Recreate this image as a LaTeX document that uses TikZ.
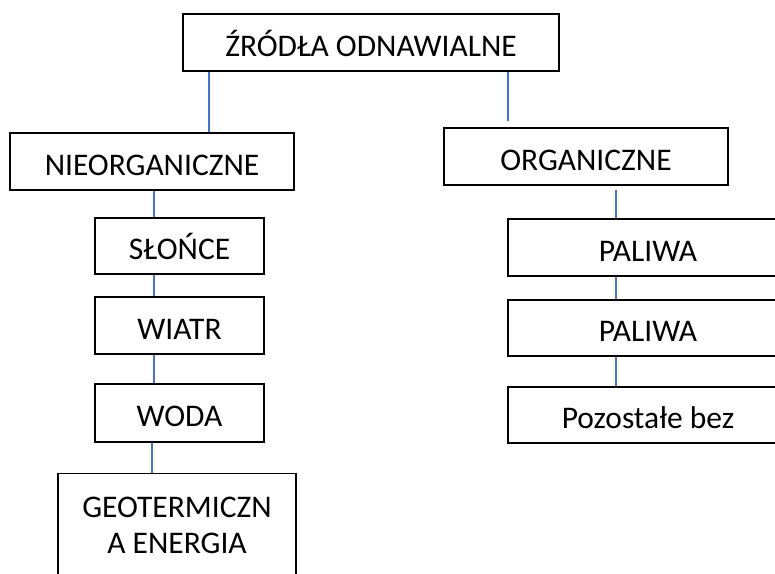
\documentclass[tikz,border=0pt]{standalone}
\usepackage{fontspec}
\setmainfont{Carlito}
\usepackage{tikz}
\definecolor{linkblue}{HTML}{4472C4}
\tikzset{every picture/.append style={x=1pt,y=-1pt}}
\tikzset{box/.style={draw, line width=1.2pt, inner sep=0pt, font=\fontsize{31.5}{36}\selectfont}}
\tikzset{onerow/.style={box, text height=30pt, text depth=3pt}}
\tikzset{link/.style={draw=linkblue, line width=1.2pt}}

\begin{document}
\begin{tikzpicture}
\useasboundingbox (0,0) rectangle (775,573);
\clip (0,0) rectangle (775,573);
\node (top) at (371,42.5)[onerow, minimum width=376pt, minimum height=57pt]{ŹRÓDŁA ODNAWIALNE};
% left branch
\node (nie) at (152,161.5)[onerow, minimum width=284pt, minimum height=57pt]{NIEORGANICZNE};
\node (slo) at (179.5,246)[onerow, minimum width=169pt, minimum height=56pt]{SŁOŃCE};
\node (wia) at (179.5,325.5)[onerow, minimum width=169pt, minimum height=57pt]{WIATR};
\node (wod) at (179.5,413)[onerow, minimum width=169pt, minimum height=58pt]{WODA};
\node (geo) at (177,473)[box, anchor=north, align=center, minimum width=238pt, minimum height=104pt]{GEOTERMICZN\\A ENERGIA};
% right branch
\node (org) at (586,156.5)[onerow, minimum width=284pt, minimum height=57pt]{ORGANICZNE};
\node (pal1) at (648,247.5)[onerow, minimum width=280pt, minimum height=57pt]{PALIWA};
\node (pal2) at (648,328)[onerow, minimum width=280pt, minimum height=56pt]{PALIWA};
\node (poz) at (648,415)[onerow, minimum width=280pt, minimum height=56pt]{Pozostałe bez};

\draw[link] ([xshift=-162pt]top.south) -- ([xshift=57pt]nie.north);
\draw[link, shorten >=6pt] ([xshift=137pt]top.south) -- ([xshift=-78pt]org.north);
\draw[link] ([xshift=2pt]nie.south) -- ([xshift=-25.5pt]slo.north);
\draw[link] ([xshift=-25.5pt]slo.south) -- ([xshift=-25.5pt]wia.north);
\draw[link] ([xshift=-25.5pt]wia.south) -- ([xshift=-25.5pt]wod.north);
\draw[link] ([xshift=-27.5pt]wod.south) -- ([xshift=-25pt]geo.north);
\draw[link, shorten <=4pt] ([xshift=30pt]org.south) -- ([xshift=-32pt]pal1.north);
\draw[link] ([xshift=-32pt]pal1.south) -- ([xshift=-32pt]pal2.north);
\draw[link] ([xshift=-32pt]pal2.south) -- ([xshift=-32pt]poz.north);
\end{tikzpicture}
\end{document}
